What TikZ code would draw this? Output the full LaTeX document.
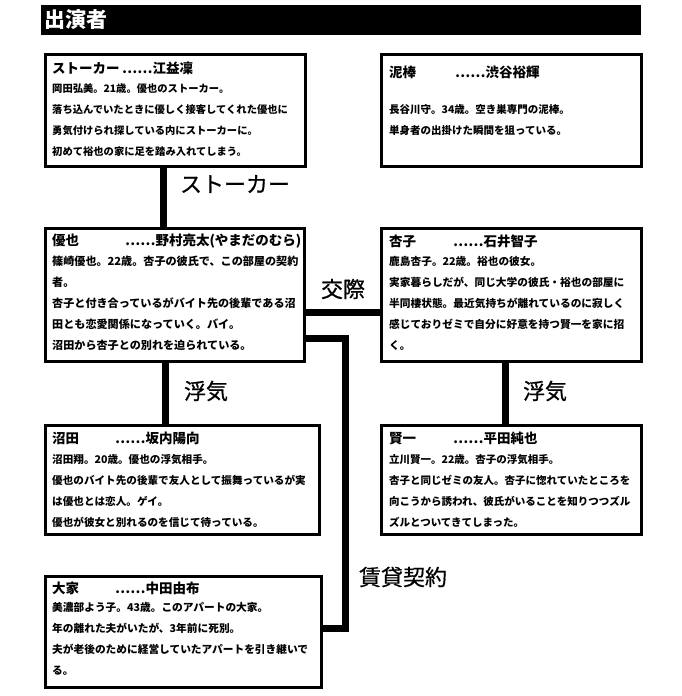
\documentclass[tikz,border=0pt]{standalone}
\usepackage{fontspec}
\setmainfont{Noto Sans CJK JP}
\newfontfamily\relfont[FakeBold=0.6]{Noto Sans CJK JP}
\begin{document}
\begin{tikzpicture}[x=1pt,y=-1pt,
  box/.style={draw, line width=2.5pt, inner sep=0pt, anchor=north west},
  conn/.style={line width=7pt},
  rel/.style={font=\relfont\fontsize{22}{22}\selectfont, inner sep=0pt},
  ttl/.style={font=\bfseries\fontsize{13.5}{13.5}\selectfont, inner sep=0pt, anchor=west},
  body/.style={align=left, inner sep=0pt, anchor=north west, font=\bfseries\fontsize{#1}{21}\selectfont},
]
\fill[white] (0,0) rectangle (682,696);
\useasboundingbox (0,0) rectangle (682,696);

% title bar
\node[fill=black, minimum width=600pt, minimum height=30pt, inner sep=0pt, anchor=north west] (bar) at (41,5) {};
\node[text=white, font=\bfseries\fontsize{21}{21}\selectfont, inner sep=0pt, anchor=west] (bartext) at (44,20) {出演者};

% boxes
\node[box, minimum width=260pt, minimum height=112pt] (stalker) at (44,53) {};
\node[box, minimum width=260pt, minimum height=112pt] (thief) at (380,53) {};
\node[box, minimum width=259pt, minimum height=133pt] (yuya) at (44,227) {};
\node[box, minimum width=260pt, minimum height=133pt] (anzu) at (380,227) {};
\node[box, minimum width=274pt, minimum height=109pt] (numata) at (44,424) {};
\node[box, minimum width=260pt, minimum height=109pt] (kenichi) at (380,424) {};
\node[box, minimum width=276pt, minimum height=111pt] (ooya) at (44,575) {};

% box texts
\node[ttl] (t1) at (52,68) {\makebox[70pt][l]{ストーカー}……江益凜};
\node[body=10.3] (b1) at (52,83.5) {岡田弘美。21歳。優也のストーカー。\\落ち込んでいたときに優しく接客してくれた優也に\\勇気付けられ探している内にストーカーに。\\初めて裕也の家に足を踏み入れてしまう。};

\node[ttl] (t2) at (389,72) {\makebox[66pt][l]{泥棒}……渋谷裕輝};
\node[body=10.5] (b2) at (389,104.5) {長谷川守。34歳。空き巣専門の泥棒。\\単身者の出掛けた瞬間を狙っている。};

\node[ttl] (t3) at (52,241) {\makebox[73pt][l]{優也}……野村亮太(やまだのむら)};
\node[body=11.1] (b3) at (52,256) {篠崎優也。22歳。杏子の彼氏で、この部屋の契約\\者。\\杏子と付き合っているがバイト先の後輩である沼\\田とも恋愛関係になっていく。バイ。\\沼田から杏子との別れを迫られている。};

\node[ttl] (t4) at (389,241) {\makebox[64pt][l]{杏子}……石井智子};
\node[body=10.7] (b4) at (389,256.5) {鹿島杏子。22歳。裕也の彼女。\\実家暮らしだが、同じ大学の彼氏・裕也の部屋に\\半同棲状態。最近気持ちが離れているのに寂しく\\感じておりゼミで自分に好意を持つ賢一を家に招\\く。};

\node[ttl] (t5) at (52,438) {\makebox[63pt][l]{沼田}……坂内陽向};
\node[body=10.6] (b5) at (52,454.5) {沼田翔。20歳。優也の浮気相手。\\優也のバイト先の後輩で友人として振舞っているが実\\は優也とは恋人。ゲイ。\\優也が彼女と別れるのを信じて待っている。};

\node[ttl] (t6) at (389,438) {\makebox[64pt][l]{賢一}……平田純也};
\node[body=10.5] (b6) at (389,454.5) {立川賢一。22歳。杏子の浮気相手。\\杏子と同じゼミの友人。杏子に惚れていたところを\\向こうから誘われ、彼氏がいることを知りつつズル\\ズルとついてきてしまった。};

\node[ttl] (t7) at (52,588) {\makebox[63pt][l]{大家}……中田由布};
\node[body=10.7] (b7) at (52,602.5) {美濃部よう子。43歳。このアパートの大家。\\年の離れた夫がいたが、3年前に死別。\\夫が老後のために経営していたアパートを引き継いで\\る。};

% connectors
\coordinate (rent) at (345,628);
\draw[conn] ([xshift=119pt]stalker.south west) -- ([xshift=119pt]yuya.north west);
\draw[conn] ([xshift=121pt]yuya.south west) -- ([xshift=121pt]numata.north west);
\draw[conn] ([yshift=-85pt]yuya.north east) -- ([yshift=-85pt]anzu.north west);
\draw[conn] ([xshift=125pt]anzu.south west) -- ([xshift=125pt]kenichi.north west);
\draw[conn] ([yshift=-111pt]yuya.north east) -| (rent) -- (rent -| ooya.east);

% relation labels
\node[rel] (lstalker) at (235,184) {ストーカー};
\node[rel] (lkosai) at (343,289) {交際};
\node[rel] (lfuki1) at (206,391) {浮気};
\node[rel] (lfuki2) at (545,391) {浮気};
\node[rel] (lchintai) at (403,577) {賃貸契約};
\end{tikzpicture}
\end{document}
